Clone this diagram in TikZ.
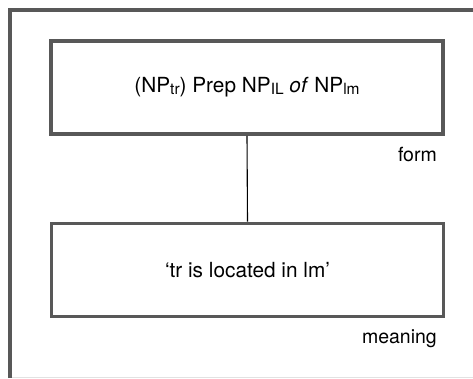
\documentclass[tikz,border=0pt]{standalone}
\usepackage{fontspec}
\setmainfont{TeX Gyre Heros}
\definecolor{framegray}{HTML}{585858}
\definecolor{lightline}{HTML}{E2E2E2}
\newcommand{\lowsub}[1]{\raisebox{-1.5pt}{\fontsize{15.5}{16}\selectfont #1}}
\begin{document}
\begin{tikzpicture}[x=1pt,y=-1pt,
  box/.style={draw=framegray,line width=3.6pt,minimum width=392pt,minimum height=93pt,inner sep=0pt,
    font=\fontsize{20.8}{25}\selectfont},
  lbl/.style={inner sep=0pt,anchor=base east,font=\fontsize{19.5}{23}\selectfont},
  link/.style={draw=black,line width=1.1pt}]
\useasboundingbox (0,0) rectangle (473,378);
\draw[framegray,line width=3.8pt] (10,378) -- (10,10) -- (473,10);
\draw[lightline,line width=1pt] (12,377) -- (473,377);
\node[box] (formbox) at (247,87.5) {(NP\lowsub{tr}) Prep NP\lowsub{IL} \textit{of} NP\lowsub{lm}};
\node[box] (meanbox) at (247.5,270) {‘tr is located in lm’};
\node[lbl] (formlbl) at (437,161) {form};
\node[lbl] (meanlbl) at (437,343) {meaning};
\draw[link] (formbox.south) -- (meanbox.north);
\end{tikzpicture}
\end{document}
